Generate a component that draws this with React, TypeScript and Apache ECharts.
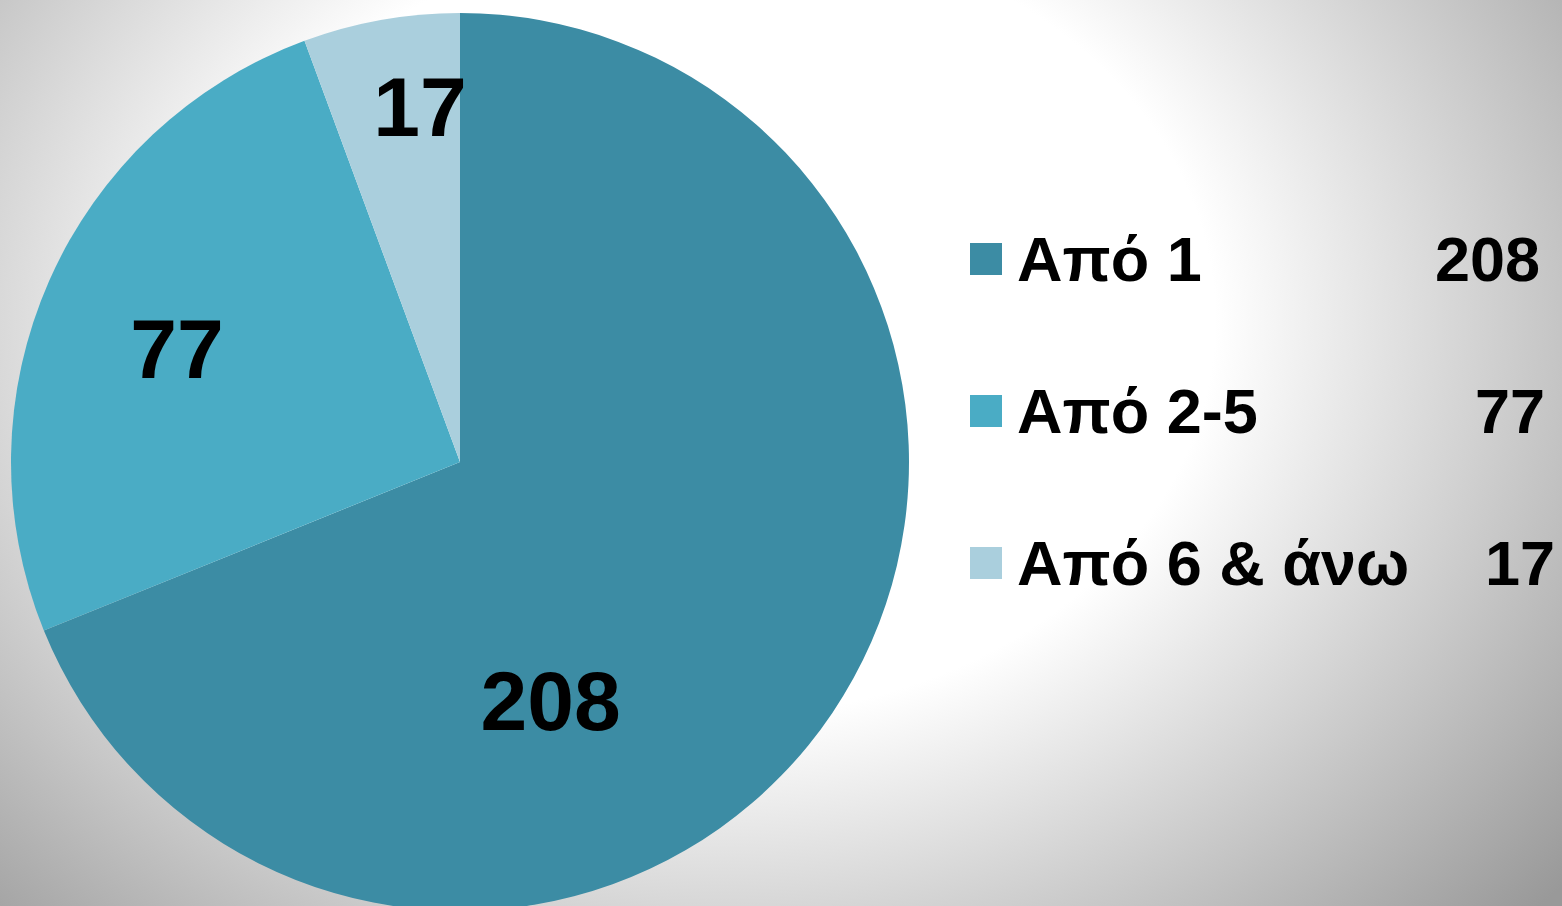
import React, { useEffect, useRef } from "react";
import * as echarts from "echarts";

const categories = ["Από 1", "Από 2-5", "Από 6 & άνω"];
const values = [208, 77, 17];
const colors = ["#3c8ca4", "#4aacc5", "#aacfdd"];
const labelOffsets: [number, number][] = [
  [-98, 112],
  [-75, -21],
  [0, -131],
];
const valueBoxWidths = [103, 108, 118];

const FONT = '"Liberation Sans", Arial, sans-serif';

export default function App() {
  const ref = useRef<HTMLDivElement>(null);

  useEffect(() => {
    document.body.style.margin = "0";
    if (!ref.current) return;
    const chart = echarts.init(ref.current, null, { renderer: "svg" });
    const data = categories.map((name, i) => ({
      name,
      value: values[i],
      itemStyle: { color: colors[i] },
      label: { offset: labelOffsets[i] },
    }));
    const baseText = {
      fontFamily: FONT,
      fontWeight: "bold",
      fontSize: 63,
      lineHeight: 70,
      color: "#000",
    };
    const rich: Record<string, any> = {
      n: { ...baseText, width: 420, padding: [0, 0, 0, 10], align: "left" },
    };
    valueBoxWidths.forEach((w, i) => {
      rich["v" + i] = { ...baseText, width: w, align: "right" };
    });
    chart.setOption({
      animation: false,
      backgroundColor: "transparent",
      legend: {
        orient: "vertical",
        left: 970,
        top: 224,
        padding: 0,
        itemWidth: 32,
        itemHeight: 32,
        itemGap: 82,
        icon: "rect",
        selectedMode: false,
        data: categories,
        formatter: (name: string) => {
          const i = categories.indexOf(name);
          return `{n|${name}}{v${i}|${values[i]}}`;
        },
        textStyle: { ...baseText, rich },
      },
      series: [
        {
          type: "pie",
          center: [460, 462],
          radius: [0, 449],
          startAngle: 90,
          clockwise: true,
          avoidLabelOverlap: false,
          silent: true,
          label: {
            show: true,
            position: "inside",
            formatter: "{c}",
            color: "#000",
            fontFamily: FONT,
            fontWeight: "bold",
            fontSize: 84,
          },
          labelLine: { show: false },
          itemStyle: { borderWidth: 0 },
          emphasis: { disabled: true },
          data,
        },
      ],
    });
    return () => chart.dispose();
  }, []);

  return (
    <div
      style={{
        position: "absolute",
        left: 0,
        top: 0,
        width: 1562,
        height: 906,
        overflow: "hidden",
        background:
          "radial-gradient(ellipse 1100px 880px at 720px 320px, #ffffff 0%, #ffffff 45%, #999999 100%)",
      }}
    >
      <div ref={ref} style={{ width: 1562, height: 906 }} />
    </div>
  );
}
